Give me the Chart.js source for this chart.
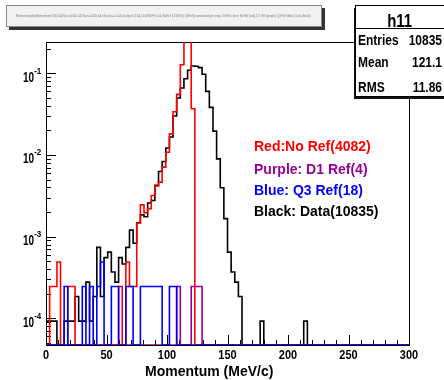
<!DOCTYPE html>
<html>
<head>
<meta charset="utf-8">
<script src="https://cdn.jsdelivr.net/npm/chart.js@4.4.0/dist/chart.umd.min.js"></script>
<style>
  html, body { margin: 0; padding: 0; background: #ffffff; }
  canvas { display: block; }
</style>
</head>
<body>
<canvas id="c" width="444" height="380"></canvas>
<script>
// Momentum spectra: 100 bins of 3 MeV/c from 0 to 300 MeV/c.
const binLow = 0;
const binWidth = 3;
const nBins = 100;

// Entries per bin, starting at the first bin; bins past the end of a list are empty.
const dataCounts = [
  1, 1, 1, 0, 0, 1, 1, 1, 2, 1,
  1, 3, 1, 2, 8, 2, 6, 7, 4, 3,
  6, 5, 8, 13, 9, 16, 20, 19, 28, 30,
  46, 68, 90, 132, 180, 325, 540, 715, 930, 1180,
  1330, 1320, 1270, 1056, 650, 415, 212, 97, 43, 18,
  7, 4, 3, 2, 0, 0, 0, 0, 0, 1,
  0, 0, 0, 0, 0, 0, 0, 0, 0, 0,
  0, 1
];
const noRefCounts = [
  0, 1, 1, 2, 0, 0, 1, 1, 0, 0,
  0, 0, 0, 0, 0, 0, 0, 0, 0, 0,
  1, 0, 2, 1, 1, 6, 10, 8, 9, 13,
  17, 19, 29, 44, 74, 138, 225, 520, 1180, 1629,
  150
];
const d1RefCounts = [
  0, 0, 0, 0, 0, 0, 0, 0, 0, 0,
  0, 0, 0, 0, 0, 0, 0, 0, 0, 0,
  0, 0, 0, 0, 0, 0, 0, 0, 0, 0,
  0, 0, 0, 0, 0, 0, 1, 0, 0, 0,
  1, 1, 1
];
const q3RefCounts = [
  0, 0, 0, 0, 0, 1, 0, 0, 0, 0,
  1, 0, 1, 0, 1, 2, 0, 0, 1, 1,
  0, 0, 1, 1, 0, 0, 1, 1, 1, 1,
  1, 1, 0, 0, 1, 1
];

// Normalisation: data by its own entries, the reference selections by the no-ref total.
const dataEntries = 10835;
const refEntries = 4082;

const statRows = [["Entries", "10835"], ["Mean", "121.1"], ["RMS", "11.86"]];
const legendLines = [
  ["Red:No Ref(4082)", "#ff0000"],
  ["Purple: D1 Ref(4)", "#990099"],
  ["Blue: Q3 Ref(18)", "#0000ff"],
  ["Black: Data(10835)", "#000000"]
];
const xTickLabels = [0, 50, 100, 150, 200, 250, 300];
const yDecades = [-4, -3, -2, -1];

const xMin = 0, xMax = 300;
const yMin = 4.71e-5, yMax = 0.2416;

const FONT = '"Liberation Sans", Arial, Helvetica, sans-serif';

// Histogram outline: one point per bin low edge plus the upper edge of the last bin.
// Empty bins sit on the bottom of the log axis.
function histPoints(counts, norm) {
  const pts = [];
  for (let i = 0; i < nBins; i++) {
    const c = counts[i] || 0;
    pts.push({ x: binLow + i * binWidth, y: c > 0 ? c / norm : yMin });
  }
  pts.push({ x: binLow + nBins * binWidth, y: pts[nBins - 1].y });
  return pts;
}

function drawText(ctx, s, x, y, size, color, align, sy) {
  ctx.save();
  ctx.font = 'bold ' + size + 'px ' + FONT;
  ctx.fillStyle = color;
  ctx.textAlign = align;
  ctx.textBaseline = 'alphabetic';
  ctx.translate(x, y);
  ctx.scale(1, sy);
  ctx.fillText(s, 0, 0);
  ctx.restore();
}

const frameAndLabels = {
  id: 'frameAndLabels',
  beforeDatasetsDraw(chart) {
    const ctx = chart.ctx;
    const a = chart.chartArea;
    const xs = chart.scales.x, ys = chart.scales.y;
    ctx.save();
    ctx.strokeStyle = '#000000';
    ctx.lineWidth = 1;
    ctx.strokeRect(a.left + 0.5, a.top + 0.5, a.right - a.left, a.bottom - a.top);
    ctx.beginPath();
    // log-axis ticks along the left edge
    for (let d = -5; d <= 0; d++) {
      for (let m = 1; m <= 9; m++) {
        const v = m * Math.pow(10, d);
        if (v < yMin || v > yMax) continue;
        const py = Math.round(ys.getPixelForValue(v)) + 0.5;
        const len = m === 1 ? 10 : 5;
        ctx.moveTo(a.left, py);
        ctx.lineTo(a.left + len, py);
      }
    }
    // x ticks along the bottom edge
    for (let v = xMin; v <= xMax; v += 10) {
      const px = Math.round(xs.getPixelForValue(v)) + 0.5;
      const len = v % 50 === 0 ? 10 : 5;
      ctx.moveTo(px, a.bottom);
      ctx.lineTo(px, a.bottom - len);
    }
    ctx.stroke();
    ctx.restore();
  },
  afterDraw(chart) {
    const ctx = chart.ctx;
    const xs = chart.scales.x, ys = chart.scales.y;

    // axis numbers
    xTickLabels.forEach(v => {
      drawText(ctx, String(v), xs.getPixelForValue(v), 358.5, 11, '#000', 'center', 1.15);
    });
    yDecades.forEach(d => {
      const py = ys.getPixelForValue(Math.pow(10, d));
      drawText(ctx, '10', 34, py + 8.4, 10, '#000', 'right', 1.4);
      drawText(ctx, String(d), 34.2, py + 0.4, 8, '#000', 'left', 1.15);
    });
    drawText(ctx, 'Momentum (MeV/c)', 145, 376, 14, '#000', 'left', 1.1);

    // title box
    ctx.save();
    ctx.fillStyle = '#333333';
    ctx.fillRect(9, 27, 316, 3);
    ctx.fillRect(322, 8, 3, 22);
    ctx.fillStyle = '#f1f1f1';
    ctx.fillRect(6, 5, 316, 22);
    ctx.strokeStyle = '#8a8a8a';
    ctx.lineWidth = 1;
    ctx.strokeRect(6.5, 5.5, 315, 21);
    const title = 'Momentum{abs(Momentum)<300 && Run>=1000 && Run<=1420 && nTracks==1 && Quality>0.5 && Chi2/NDF<5 && (NoRef || D1Ref || Q3Ref)} normalised per entry, 3 MeV/c bins: No Ref (red), D1 Ref (purple), Q3 Ref (blue), Data (black)';
    ctx.font = '10px ' + FONT;
    const w = ctx.measureText(title).width;
    const fs = 10 * 296 / w;
    ctx.font = fs + 'px ' + FONT;
    ctx.fillStyle = '#777777';
    ctx.textAlign = 'left';
    ctx.textBaseline = 'middle';
    ctx.fillText(title, 16, 16);
    ctx.restore();

    // statistics box
    ctx.save();
    ctx.fillStyle = '#111111';
    ctx.fillRect(354, 8, 95, 91);
    ctx.fillStyle = '#ffffff';
    ctx.fillRect(356, 6, 95, 90);
    ctx.strokeStyle = '#000000';
    ctx.lineWidth = 1;
    ctx.strokeRect(355.5, 5.5, 95, 91);
    ctx.beginPath();
    ctx.moveTo(355, 28.5);
    ctx.lineTo(444, 28.5);
    ctx.stroke();
    ctx.restore();
    drawText(ctx, 'h11', 399.7, 27, 15, '#000', 'center', 1.25);
    const rowBase = [45, 67, 91.5];
    statRows.forEach((r, i) => {
      drawText(ctx, r[0], 358, rowBase[i], 12, '#000', 'left', 1.2);
      drawText(ctx, r[1], 442, rowBase[i], 12, '#000', 'right', 1.2);
    });

    // coloured legend text
    const legBase = [151, 174, 195, 216];
    legendLines.forEach((l, i) => {
      drawText(ctx, l[0], 254, legBase[i], 14, l[1], 'left', 1.0);
    });
  }
};

// 'before' makes each bin's value hold across [low edge, next low edge]
const common = {
  stepped: 'before',
  pointRadius: 0,
  borderWidth: 1.6,
  fill: false,
  tension: 0,
  borderJoinStyle: 'miter',
  borderCapStyle: 'butt'
};

new Chart(document.getElementById('c'), {
  type: 'line',
  data: {
    datasets: [
      Object.assign({ label: 'Blue: Q3 Ref', data: histPoints(q3RefCounts, refEntries), borderColor: '#0000ff', order: 0 }, common),
      Object.assign({ label: 'Purple: D1 Ref', data: histPoints(d1RefCounts, refEntries), borderColor: '#990099', order: 1 }, common),
      Object.assign({ label: 'Red: No Ref', data: histPoints(noRefCounts, refEntries), borderColor: '#ff0000', order: 2 }, common),
      Object.assign({ label: 'Black: Data', data: histPoints(dataCounts, dataEntries), borderColor: '#000000', order: 3 }, common)
    ]
  },
  options: {
    responsive: false,
    animation: false,
    devicePixelRatio: 1,
    events: [],
    layout: { padding: { left: 0, top: 42, right: 35, bottom: 0 } },
    plugins: { legend: { display: false }, tooltip: { enabled: false }, title: { display: false } },
    scales: {
      x: {
        type: 'linear', min: xMin, max: xMax,
        grid: { display: false, drawTicks: false },
        border: { display: false },
        ticks: { display: false },
        afterFit(scale) { scale.height = 35; }
      },
      y: {
        type: 'logarithmic', min: yMin, max: yMax,
        grid: { display: false, drawTicks: false },
        border: { display: false },
        ticks: { display: false },
        afterFit(scale) { scale.width = 46; }
      }
    }
  },
  plugins: [frameAndLabels]
});
</script>
</body>
</html>
